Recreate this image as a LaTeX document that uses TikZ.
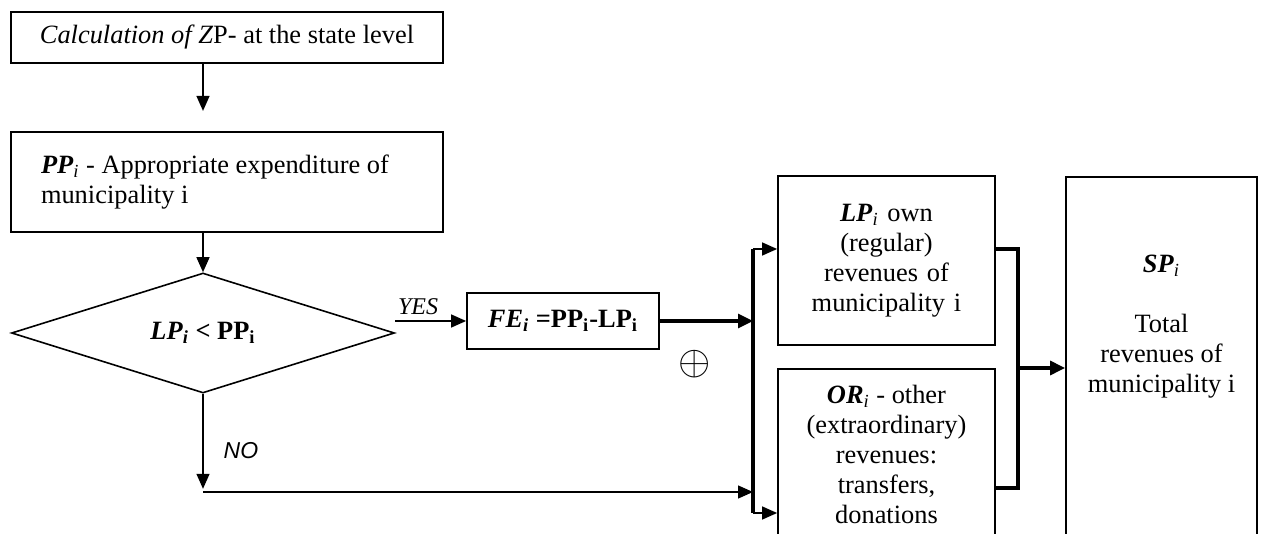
\documentclass[tikz,border=0pt]{standalone}
\usepackage{fontspec}
\setmainfont{Liberation Serif}
\newfontfamily\arialfont{Liberation Sans}
\usetikzlibrary{arrows.meta,shapes.geometric}

\begin{document}
\begin{tikzpicture}[x=0.5pt,y=-0.5pt,font=\fontsize{13.2}{15}\selectfont, box/.style={draw,line width=0.9pt,inner sep=0pt,align=center}, arrow/.style={-{Triangle[length=7.5pt,width=6.5pt]},line width=0.7pt}, thickarrow/.style={-{Triangle[length=7.5pt,width=7pt]},line width=1.6pt}, bus/.style={line width=1.6pt}]
\useasboundingbox (0,0) rectangle (1265,534);
\clip (0,0) rectangle (1265,534);
\node[box,minimum width=216pt,minimum height=25.5pt] (calc) at (227,37.5) {\textit{Calculation of Z}P- at the state level};
\node[box,minimum width=216pt,minimum height=50pt,text width=186pt,align=flush left] (pp) at (227,182) {\textbf{\textit{PP}}\textsubscript{\textit{i}} - Appropriate expenditure of\\municipality i};
\node[draw,shape=diamond,line width=0.8pt,minimum width=191.5pt,minimum height=60pt,aspect=3.2,inner sep=0pt] (dec) at (203,333) {\textbf{\textit{LP}\textsubscript{\textit{i}} < PP\textsubscript{i}}};
\node[box,minimum width=96pt,minimum height=28pt] (fe) at (563,321) {\textbf{\textit{FE}\textsubscript{\textit{i}} =PP\textsubscript{i}-LP\textsubscript{i}}};
\node[box,minimum width=108.5pt,minimum height=84.5pt,text width=100pt] (lp) at (886.5,260.5) {\textbf{\textit{LP}}\textsubscript{\textit{i}} own\\(regular)\\revenues of\\municipality i};
\node[box,minimum width=108.5pt,minimum height=100pt,anchor=north] (orbox) at (886.5,368) {};
\node[anchor=north,align=center,inner sep=0pt] (ortext) at ([yshift=-8.5pt]orbox.north) {\textbf{\textit{OR}}\textsubscript{\textit{i}} - other\\(extraordinary)\\revenues:\\transfers,\\donations};
\node[box,minimum width=95.5pt,minimum height=190pt,anchor=north] (sp) at (1161.5,176) {};
\node[anchor=north,align=center,inner sep=0pt] (sptext) at ([yshift=-39.5pt]sp.north) {\textbf{\textit{SP}}\textsubscript{\textit{i}}\\[15pt]Total\\revenues of\\municipality i};
\node (plus) at (695,364) {\fontsize{21}{21}\selectfont$\oplus$};
% buses
\coordinate (busTop) at (753,249);
\coordinate (busBot) at (753,513);
\coordinate (rbTop) at (1018,249);
\coordinate (rbMid) at (1018,368);
\coordinate (rbBot) at (1018,488);
\coordinate (noStart) at (203,492);
% connectors
\draw[arrow] (calc.south -| dec.north) -- ++(0,47);
\draw[arrow] (pp.south -| dec.north) -- (dec.north);
\draw[arrow] (fe.west -| dec.east) -- (fe.west) node[pos=0,anchor=south west,inner sep=1pt,yshift=2pt,font=\itshape\fontsize{12}{12}\selectfont] (yes) {YES};
\draw[arrow] (dec.south) -- ++(0,95) node[pos=0.6,anchor=west,xshift=9pt,inner sep=1pt,font=\arialfont\itshape\fontsize{11.5}{12}\selectfont] (no) {NO};
\draw[arrow] (noStart) -- (noStart -| busTop);
\draw[thickarrow] (fe.east) -- (fe.east -| busTop);
\draw[bus] (busTop) -- (busBot);
\draw[arrow] (busTop) -- (busTop -| lp.west);
\draw[arrow] (busBot) -- (busBot -| orbox.west);
\draw[bus] (busTop -| lp.east) -- (rbTop) -- (rbBot) -- (rbBot -| orbox.east);
\draw[thickarrow] (rbMid) -- (rbMid -| sp.west);
\end{tikzpicture}
\end{document}
